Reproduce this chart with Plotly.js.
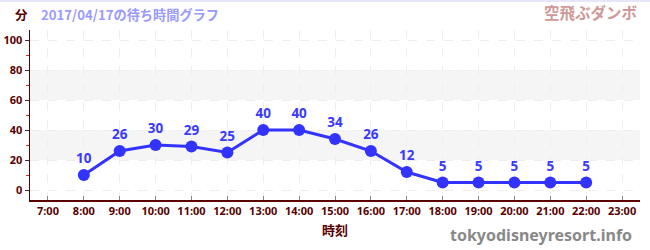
<!DOCTYPE html>
<html><head><meta charset="utf-8">
<script src="https://cdn.plot.ly/plotly-3.0.1.min.js"></script>
<style>html,body{margin:0;padding:0;background:#fff;}#chart{width:650px;height:250px;border-top:2px solid #e6e6fa;box-sizing:border-box;}</style>
</head><body><div id="chart"></div>
<script>
const tickLabels = ["7:00","8:00","9:00","10:00","11:00","12:00","13:00","14:00","15:00","16:00","17:00","18:00","19:00","20:00","21:00","22:00","23:00"];
const times = ["8:00","9:00","10:00","11:00","12:00","13:00","14:00","15:00","16:00","17:00","18:00","19:00","20:00","21:00","22:00"];
const waits = [10,26,30,29,25,40,40,34,26,12,5,5,5,5,5];
const bands = [[20,40],[60,80]];

const W = 650, L = 30, R = 10;
const px = v => (v - L) / (W - L - R);

const trace = {
  x: times, y: waits, type: 'scatter', mode: 'lines+markers+text',
  text: waits.map(String), textposition: 'top center',
  textfont: {family: 'Noto Sans', size: 13.5, color: '#3a3aff', weight: 'bold'},
  line: {color: '#3333ff', width: 3},
  marker: {color: '#3333ff', size: 12},
  cliponaxis: false, hoverinfo: 'none'
};

const tickFont = {family: 'Noto Sans', size: 11, color: '#5a0000', weight: 'bold'};
const layout = {
  width: 650, height: 248,
  margin: {l: L, r: R, t: 28, b: 50},
  paper_bgcolor: '#fff', plot_bgcolor: '#fff',
  showlegend: false,
  xaxis: {
    type: 'category', categoryorder: 'array', categoryarray: tickLabels,
    tickvals: tickLabels, range: [-0.5, tickLabels.length - 0.5],
    showline: true, linecolor: '#5a0000', linewidth: 1.5,
    ticks: 'inside', ticklen: 4, tickcolor: '#888',
    showgrid: true, gridcolor: '#eeeeee', griddash: 'dash',
    tickfont: tickFont, zeroline: false, fixedrange: true,
    title: {text: '時刻', font: {family: 'Noto Sans CJK JP', size: 13, color: '#5a0000', weight: 'bold'}, standoff: 9}
  },
  yaxis: {
    range: [-6.67, 106.67], tickvals: [0,20,40,60,80,100],
    showline: true, linecolor: '#5a0000', linewidth: 1.5,
    ticks: 'outside', ticklen: 4, tickcolor: '#333',
    minor: {tickvals: [10,30,50,70,90], ticks: 'outside', ticklen: 3, tickcolor: '#dd2222', showgrid: false},
    showgrid: true, gridcolor: '#eeeeee', griddash: 'dash',
    tickfont: tickFont, zeroline: false, fixedrange: true
  },
  shapes: bands.map(b => ({type: 'rect', xref: 'paper', yref: 'y', x0: 0, x1: 1, y0: b[0], y1: b[1], fillcolor: '#f5f5f5', line: {width: 0}, layer: 'below'})),
  annotations: [
    {text: '分', xref: 'paper', yref: 'paper', x: px(21), xanchor: 'center', y: 1, yanchor: 'bottom', yshift: 4, showarrow: false,
     font: {family: 'Noto Sans CJK JP', size: 12.5, color: '#5a0000', weight: 'bold'}},
    {text: '2017/04/17の待ち時間グラフ', xref: 'paper', yref: 'paper', x: px(39), xanchor: 'left', y: 1, yanchor: 'bottom', yshift: 4, showarrow: false,
     font: {family: 'Noto Sans CJK JP', size: 13.2, color: '#9a9aff', weight: 'bold'}},
    {text: '空飛ぶダンボ', xref: 'paper', yref: 'paper', x: px(640), xanchor: 'right', y: 1, yanchor: 'bottom', yshift: 5, showarrow: false,
     font: {family: 'Noto Sans CJK JP', size: 15.5, color: '#d09898', weight: 'bold'}},
    {text: 'tokyodisneyresort.info', xref: 'paper', yref: 'paper', x: px(634), xanchor: 'right', y: 0, yanchor: 'top', yshift: -22, showarrow: false,
     font: {family: 'Noto Sans', size: 16, color: '#888', weight: 'bold'}}
  ]
};
Plotly.newPlot('chart', [trace], layout, {staticPlot: true, displayModeBar: false});
</script></body></html>
